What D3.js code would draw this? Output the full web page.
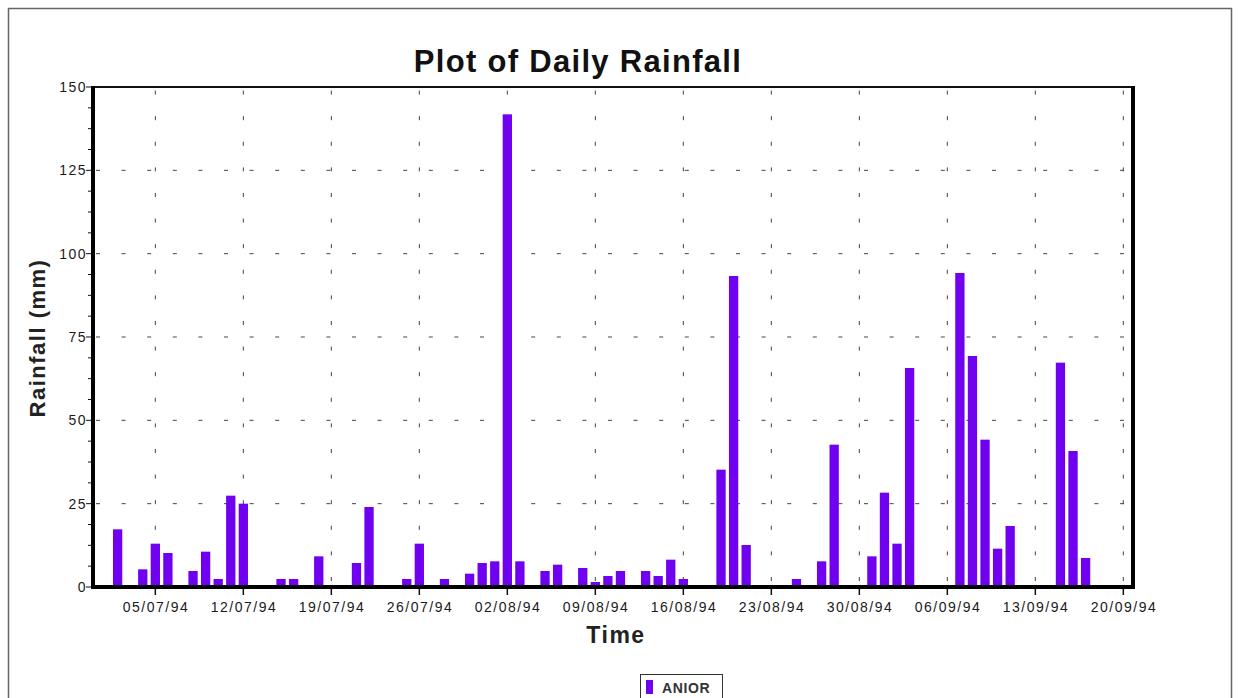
<!DOCTYPE html>
<html lang="en">
<head>
  <meta charset="UTF-8">
  <title>Plot of Daily Rainfall</title>
  <style>
    html, body {
      margin: 0;
      padding: 0;
      overflow: hidden;
      background: #fff;
      font-family: 'Liberation Sans', Arial, sans-serif;
    }
    svg { display: block; }
    .tick-label { font-size: 14px; letter-spacing: 1.5px; fill: #1a1a1a; }
  </style>
</head>
<body>
<svg width="1240" height="698"></svg>
<script src="https://d3js.org/d3.v7.min.js"></script>
<script>
// daily rainfall at ANIOR (mm), dd/mm/94
const days = [
  "02/07", "04/07", "05/07", "06/07", "08/07", "09/07", "10/07", "11/07", "12/07",
  "15/07", "16/07", "18/07", "21/07", "22/07", "24/07", "25/07", "26/07", "27/07",
  "28/07", "30/07", "31/07", "01/08", "02/08", "03/08", "05/08", "06/08", "08/08",
  "09/08", "10/08", "11/08", "13/08", "14/08", "15/08", "16/08", "19/08", "20/08",
  "21/08", "25/08", "27/08", "28/08", "31/08", "01/09", "02/09", "03/09", "07/09",
  "08/09", "09/09", "10/09", "11/09", "15/09", "16/09", "17/09"
];
const rainfall = [
  17.3, 5.3, 13, 10.2, 4.8, 10.6, 2.4, 27.4, 25.0,
  2.4, 2.4, 9.2, 7.2, 24.0, 0.5, 2.4, 13, 0.5,
  2.4, 4.0, 7.2, 7.7, 141.8, 7.7, 4.8, 6.7, 5.7,
  1.5, 3.3, 4.8, 4.8, 3.3, 8.2, 2.4, 35.2, 93.3,
  12.6, 2.4, 7.7, 42.7, 9.2, 28.3, 13, 65.7, 94.2,
  69.3, 44.2, 11.5, 18.3, 67.3, 40.8, 8.7
];
const yTicks = [0, 25, 50, 75, 100, 125, 150];
const xTickDates = ["05/07", "12/07", "19/07", "26/07", "02/08", "09/08", "16/08",
                    "23/08", "30/08", "06/09", "13/09", "20/09"];
const seriesName = "ANIOR";

const parse = s => { const [d, m] = s.split("/").map(Number); return new Date(1994, m - 1, d); };
const fmt = d3.timeFormat("%d/%m/%y");

const svg = d3.select("svg");
const margin = { left: 93, right: 1133, top: 87, bottom: 587 };
const barColor = "#7000f0";

// outer frame
svg.append("rect")
  .attr("x", 8.5).attr("y", 8.5).attr("width", 1223).attr("height", 720)
  .attr("fill", "none").attr("stroke", "#666").attr("stroke-width", 1.5);

const x = d3.scaleTime()
  .domain([new Date(1994, 5, 30, 1), new Date(1994, 8, 20, 18, 30)])
  .range([margin.left, margin.right]);
const y = d3.scaleLinear().domain([0, 150]).range([margin.bottom, margin.top]);
const dayPx = x(parse("02/07")) - x(parse("01/07"));

// grid
const grid = svg.append("g").attr("stroke", "#444").attr("stroke-width", 1)
  .attr("stroke-dasharray", "4,21.6");
grid.selectAll(".hg").data(yTicks.slice(1, -1)).enter().append("line")
  .attr("x1", margin.left).attr("x2", margin.right)
  .attr("y1", d => y(d)).attr("y2", d => y(d))
  .attr("stroke-dashoffset", -3);
grid.selectAll(".vg").data(xTickDates).enter().append("line")
  .attr("x1", d => x(parse(d))).attr("x2", d => x(parse(d)))
  .attr("y1", margin.bottom).attr("y2", margin.top)
  .attr("stroke-dashoffset", -6);

// bars
svg.append("g").selectAll("rect").data(days).enter().append("rect")
  .attr("x", d => x(parse(d)) - dayPx * 0.37)
  .attr("width", dayPx * 0.74)
  .attr("y", (d, i) => y(rainfall[i]))
  .attr("height", (d, i) => y(0) - y(rainfall[i]))
  .attr("fill", barColor);

// y axis
const yMinor = d3.range(0, 150.01, 6.25);
svg.append("g").selectAll("line").data(yMinor).enter().append("line")
  .attr("x1", margin.left - 2).attr("x2", d => margin.left - (d % 25 === 0 ? 7 : 5))
  .attr("y1", d => y(d)).attr("y2", d => y(d))
  .attr("stroke", "#111").attr("stroke-width", 1);
svg.append("g").selectAll("text").data(yTicks).enter().append("text")
  .attr("class", "tick-label")
  .attr("x", margin.left - 6).attr("y", d => y(d) + 5)
  .attr("text-anchor", "end")
  .text(d => d);

// x axis ticks and labels
svg.append("g").selectAll("line").data(xTickDates).enter().append("line")
  .attr("x1", d => x(parse(d))).attr("x2", d => x(parse(d)))
  .attr("y1", margin.bottom).attr("y2", margin.bottom + 8)
  .attr("stroke", "#111").attr("stroke-width", 1.5);
svg.append("g").selectAll("text").data(xTickDates).enter().append("text")
  .attr("class", "tick-label")
  .attr("x", d => x(parse(d)) + 0.7).attr("y", margin.bottom + 25)
  .attr("text-anchor", "middle")
  .text(d => fmt(parse(d)));

// frame of plot area
svg.append("line").attr("x1", margin.left).attr("x2", margin.right)
  .attr("y1", margin.top).attr("y2", margin.top)
  .attr("stroke", "#111").attr("stroke-width", 2);
svg.append("path")
  .attr("d", `M${margin.left},${margin.top - 1}V${margin.bottom}H${margin.right}V${margin.top - 1}`)
  .attr("fill", "none").attr("stroke", "#000").attr("stroke-width", 4);

// titles
svg.append("text").attr("x", 578).attr("y", 72).attr("text-anchor", "middle")
  .attr("font-size", 31).attr("font-weight", "bold").attr("letter-spacing", 1.3).attr("fill", "#111")
  .text("Plot of Daily Rainfall");
svg.append("text").attr("x", 616).attr("y", 643).attr("text-anchor", "middle")
  .attr("font-size", 23).attr("font-weight", "bold").attr("letter-spacing", 1.5).attr("fill", "#222")
  .text("Time");
svg.append("text")
  .attr("transform", "translate(45,338) rotate(-90)")
  .attr("text-anchor", "middle")
  .attr("font-size", 22).attr("font-weight", "bold").attr("letter-spacing", 1.5).attr("fill", "#222")
  .text("Rainfall (mm)");

// legend
const lg = svg.append("g").attr("transform", "translate(640,674)");
lg.append("rect").attr("x", 0.5).attr("y", 0.5).attr("width", 82).attr("height", 28)
  .attr("fill", "#fff").attr("stroke", "#333").attr("stroke-width", 1);
lg.append("rect").attr("x", 6).attr("y", 6).attr("width", 7).attr("height", 14).attr("fill", barColor);
lg.append("text").attr("x", 22).attr("y", 19).attr("font-size", 14).attr("font-weight", "bold")
  .attr("letter-spacing", 0.6).attr("fill", "#333").text(seriesName);
</script>
</body>
</html>
